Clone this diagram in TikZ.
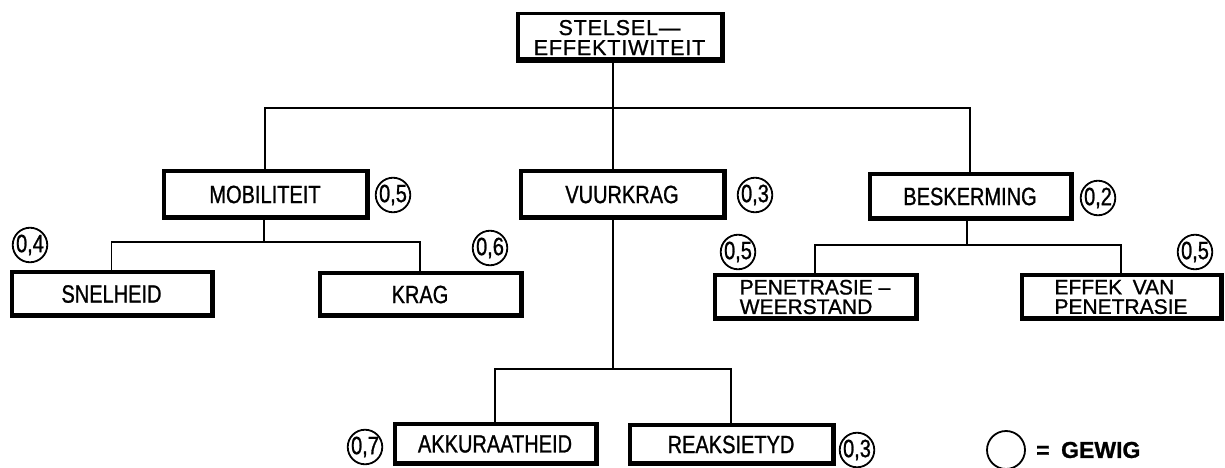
\documentclass[tikz,border=0pt]{standalone}
\usepackage{fontspec}
\setmainfont{Liberation Sans}
\newfontfamily\condfont{Liberation Sans}[FakeStretch=0.8, FakeBold=1]
\newfontfamily\plainfont{Liberation Sans}[FakeBold=1]
\newfontfamily\spacedfont{Liberation Sans}[FakeBold=1, LetterSpace=4]
\begin{document}
\begin{tikzpicture}[x=1pt,y=-1pt,
  box/.style={draw, rectangle, line width=3.5pt, inner sep=0pt, outer sep=0pt,
    font=\condfont\fontsize{25}{25}\selectfont},
  twoline/.style={box, font=\plainfont\fontsize{21}{19.5}\selectfont},
  heavy/.style={line width=5.5pt, line cap=rect},
  link/.style={line width=1.6pt},
  weight/.style={draw, circle, line width=1.8pt, minimum size=32pt, inner sep=0pt,
    font=\condfont\fontsize{25}{25}\selectfont},
]
\useasboundingbox (0,0) rectangle (1225,468);

% boxes
\node[twoline, align=center, minimum width=203.5pt, minimum height=47.5pt,
  font=\spacedfont\fontsize{21.5}{20}\selectfont] (top) at (619.5,37.5)
  {STELSEL—\\EFFEKTIWITEIT};
\node[box, minimum width=202.5pt, minimum height=47.5pt] (mob) at (265,194.5) {MOBILITEIT};
\node[box, minimum width=202.5pt, minimum height=47.5pt] (vk)  at (622,194.5) {VUURKRAG};
\node[box, minimum width=200.5pt, minimum height=45.5pt] (bes) at (970,196.5) {BESKERMING};
\node[box, minimum width=199.5pt, minimum height=44.5pt] (sne) at (111.5,294) {SNELHEID};
\node[box, minimum width=200.5pt, minimum height=43.5pt] (krag) at (420,294.5) {KRAG};
\node[twoline, align=left, minimum width=200.5pt, minimum height=44.5pt] (pen) at (815,297)
  {PENETRASIE –\\WEERSTAND};
\node[twoline, align=left, minimum width=198.5pt, minimum height=44.5pt] (eff) at (1121,297)
  {EFFEK\enspace VAN\\PENETRASIE};
\node[box, minimum width=200.5pt, minimum height=40.5pt] (akk) at (495,444) {AKKURAATHEID};
\node[box, minimum width=202.5pt, minimum height=39.5pt] (rea) at (731,444.5) {REAKSIETYD};

% heavier right and bottom edges
\foreach \n in {top,mob,vk,bes,sne,krag,pen,eff,akk,rea}
  \draw[heavy] ([xshift=1pt,yshift=-1pt]\n.north east) -- ([xshift=1pt,yshift=1pt]\n.south east)
    -- ([xshift=1pt,yshift=1pt]\n.south west);

% junction points
\coordinate (spine) at (613,108);
\coordinate (mbus) at (264,242);
\coordinate (bbus) at (967,245);
\coordinate (vbus) at (613,369);

% connectors
\draw[link] (top.south -| spine) -- (spine);
\draw[link] (mob.north) |- (spine) -| (bes.north);
\draw[link] (spine) -- (vk.north -| spine);

\draw[link] (mob.south -| mbus) -- (mbus);
\draw[link] (sne.north) |- (mbus) -| (krag.north);

\draw[link] (bes.south -| bbus) -- (bbus);
\draw[link] (pen.north) |- (bbus) -| (eff.north);

\draw[link] (vk.south -| vbus) -- (vbus);
\draw[link] (akk.north) |- (vbus) -| (rea.north);

% weights
\node[weight] (wmob) at (393,195) {0,5};
\node[weight] (wvk)  at (755,195) {0,3};
\node[weight] (wbes) at (1098,198) {0,2};
\node[weight] (wsne) at (30,245) {0,4};
\node[weight] (wkrag) at (490,248) {0,6};
\node[weight] (wpen) at (738,252) {0,5};
\node[weight] (weff) at (1195,252) {0,5};
\node[weight] (wakk) at (365,447) {0,7};
\node[weight] (wrea) at (857,450) {0,3};

% legend
\node[draw, circle, line width=1.8pt, minimum size=38pt, inner sep=0pt] (leg) at (1006,450) {};
\node[anchor=west, inner sep=0pt, font=\plainfont\bfseries\fontsize{23}{23}\selectfont]
  (legtext) at (1036,450) {=\enspace GEWIG};
\end{tikzpicture}
\end{document}
